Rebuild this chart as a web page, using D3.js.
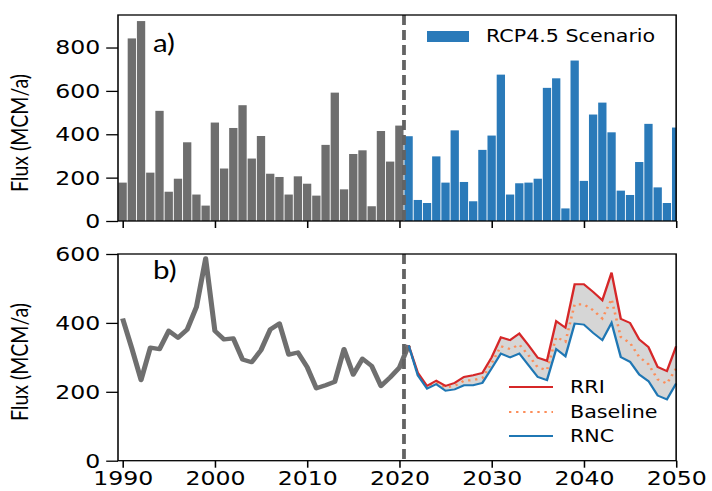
<!DOCTYPE html>
<html>
<head>
<meta charset="utf-8">
<title>flux scenarios</title>
<script src="https://cdn.jsdelivr.net/npm/d3@7"></script>
<style>
    body{margin:0;background:#fff;}
    svg{display:block;}
    .axis text{font-family:"DejaVu Sans";font-size:20px;fill:#000;}
    .axis line{stroke:#000;stroke-width:1.3;}
    .ylab{font-family:Lato;font-size:19.5px;}
    .panel{font-family:Lato;font-size:25px;}
    .leg{font-family:"DejaVu Sans";font-size:17.5px;}
</style>
</head>
<body>
<div id="chart"></div>
<script>
// years
var histYears = d3.range(1990, 2021)      // bars, observed
var lineYears = d3.range(1990, 2022)      // gray line, observed
var futureYears = d3.range(2021, 2051)

// panel a) annual flux (MCM/a)
var histFlux = [177,842,922,223,508,135,195,363,122,71,454,242,429,534,288,392,218,203,122,206,172,117,351,592,146,309,326,68,415,274,440]
var rcpFlux = [391,97,83,298,177,418,180,91,328,394,675,122,174,177,195,614,658,58,740,185,491,546,409,140,120,272,448,155,83,431]

// panel b) smoothed flux
var histLine = [413,326,234,328,324,377,357,381,446,587,377,352,355,294,286,321,381,398,308,314,272,210,219,229,324,250,296,275,217,242,270,335]
var rri = [335,255,217,232,217,226,243,248,255,300,358,350,369,335,299,290,405,386,512,512,490,466,546,412,400,352,330,272,260,332]
var baseline = [335,250,214,227,213,217,232,234,240,283,332,324,337,306,271,263,359,345,454,454,437,413,469,359,342,301,280,236,224,268]
var rnc = [335,248,209,222,203,207,219,219,226,268,311,300,311,277,243,234,324,303,398,395,371,350,400,301,287,250,231,189,178,224]

var xTicks = [1990,2000,2010,2020,2030,2040,2050]
var yTicksA = [0,200,400,600,800]
var yTicksB = [0,200,400,600]

// the picture is a bit wider than it is tall, so stretch everything in x
var S = 1.18
var W = 712 / S, H = 491
var left = 100, right = 573

var svg = d3.select("#chart").append("svg")
    .attr("width", 712).attr("height", H)
    .attr("viewBox", "0 0 " + W + " " + H)
    .attr("preserveAspectRatio", "none")

var x = d3.scaleLinear().domain([1989.5, 2050]).range([left, right])
var yA = d3.scaleLinear().domain([0, 950]).range([221, 15])
var yB = d3.scaleLinear().domain([0, 600]).range([460.7, 254])

var bw = (x(1) - x(0)) * 0.9

// ---- panel a
var gA = svg.append("g")
gA.selectAll(".hist").data(histYears).enter().append("rect")
    .attr("x", function(d){ return x(d) - bw/2 })
    .attr("width", bw)
    .attr("y", function(d,i){ return yA(histFlux[i]) })
    .attr("height", function(d,i){ return yA(0) - yA(histFlux[i]) })
    .attr("fill", "#6e6e6e")

gA.selectAll(".rcp").data(futureYears).enter().append("rect")
    .attr("x", function(d){ return x(d) - bw/2 })
    .attr("width", function(d){ return Math.min(bw, right - (x(d) - bw/2)) })
    .attr("y", function(d,i){ return yA(rcpFlux[i]) })
    .attr("height", function(d,i){ return yA(0) - yA(rcpFlux[i]) })
    .attr("fill", "#2a7ab9")

// ---- panel b
var gB = svg.append("g")
var area = d3.area()
    .x(function(d,i){ return x(futureYears[i]) })
    .y0(function(d,i){ return yB(rnc[i]) })
    .y1(function(d){ return yB(d) })
gB.append("path").datum(rri).attr("d", area)
    .attr("fill", "#d6d6d6")

var line = function(years, sc){
    return d3.line().x(function(d,i){ return x(years[i]) }).y(function(d){ return sc(d) })
}
gB.append("path").datum(histLine).attr("d", line(lineYears, yB))
    .attr("fill","none").attr("stroke","#6f6f6f").attr("stroke-width",4.3)
    .attr("stroke-linejoin","round")
gB.append("path").datum(baseline).attr("d", line(futureYears, yB))
    .attr("fill","none").attr("stroke","#fc8d59").attr("stroke-width",2.2)
    .attr("stroke-dasharray","2,4")
gB.append("path").datum(rri).attr("d", line(futureYears, yB))
    .attr("fill","none").attr("stroke","#d62728").attr("stroke-width",2)
gB.append("path").datum(rnc).attr("d", line(futureYears, yB))
    .attr("fill","none").attr("stroke","#1f77b4").attr("stroke-width",2)

// dashed split at 2020.5
;[yA, yB].forEach(function(sc){
    svg.append("line")
        .attr("x1", x(2020.5)).attr("x2", x(2020.5))
        .attr("y1", sc.range()[1]).attr("y2", sc.range()[0])
        .attr("stroke","#636363").attr("stroke-width",3.2)
        .attr("stroke-dasharray","10,5")
})

// ---- axes + frames
function axes(sc, ticks, showX){
    svg.append("g").attr("class","axis")
        .attr("transform","translate(" + left + ",0)")
        .call(d3.axisLeft(sc).tickValues(ticks).tickSize(10).tickPadding(5).tickFormat(d3.format("d")))
        .call(function(g){ g.select(".domain").remove() })
    var xa = d3.axisBottom(x).tickValues(xTicks).tickSize(7).tickPadding(3).tickFormat(d3.format("d"))
    if(!showX) xa.tickFormat("")
    svg.append("g").attr("class","axis")
        .attr("transform","translate(0," + sc.range()[0] + ")")
        .call(xa)
        .call(function(g){ g.select(".domain").remove() })
    svg.append("rect")
        .attr("x", left).attr("y", sc.range()[1])
        .attr("width", right - left).attr("height", sc.range()[0] - sc.range()[1])
        .attr("fill","none").attr("stroke","#000").attr("stroke-width",1.3)
}
axes(yA, yTicksA, false)
axes(yB, yTicksB, true)

// labels
svg.append("text").attr("class","ylab")
    .attr("transform","translate(" + 28/S + "," + 133 + ") rotate(-90)")
    .attr("text-anchor","middle").text("Flux (MCM/a)")
svg.append("text").attr("class","ylab")
    .attr("transform","translate(" + 28/S + "," + 362 + ") rotate(-90)")
    .attr("text-anchor","middle").text("Flux (MCM/a)")
svg.append("text").attr("class","panel").attr("x", 153/S).attr("y", 52).text("a)")
svg.append("text").attr("class","panel").attr("x", 153/S).attr("y", 279).text("b)")

// legend a
svg.append("rect").attr("x", 427/S).attr("y", 31).attr("width", 42/S).attr("height", 11).attr("fill","#2a7ab9")
svg.append("text").attr("class","leg").attr("x", 486/S).attr("y", 42.5).text("RCP4.5 Scenario")

// legend b
var legB = [
    {name:"RRI", color:"#d62728", dash:null, y:387},
    {name:"Baseline", color:"#fc8d59", dash:"2,4", y:412},
    {name:"RNC", color:"#1f77b4", dash:null, y:436}
]
legB.forEach(function(d){
    svg.append("line").attr("x1", 509/S).attr("x2", 553/S).attr("y1", d.y).attr("y2", d.y)
        .attr("stroke", d.color).attr("stroke-width", d.dash ? 2.2 : 2)
        .attr("stroke-dasharray", d.dash)
    svg.append("text").attr("class","leg").attr("x", 570/S).attr("y", d.y + 6).text(d.name)
})
</script>
</body>
</html>
